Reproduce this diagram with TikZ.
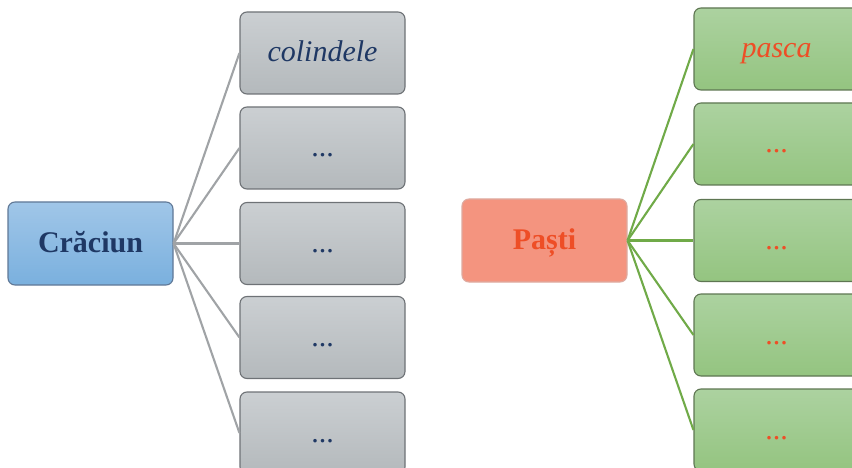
\documentclass[tikz,border=0pt]{standalone}
\usepackage{fontspec}
\setmainfont{Liberation Serif}
\usepackage{tikz}
\definecolor{XNavy}{RGB}{31,56,100}
\definecolor{XOrange}{RGB}{238,78,38}
\definecolor{XBlueTop}{RGB}{160,198,232}
\definecolor{XBlueBot}{RGB}{122,176,222}
\definecolor{XBlueLine}{RGB}{96,120,150}
\definecolor{XGrayTop}{RGB}{203,207,210}
\definecolor{XGrayBot}{RGB}{180,185,188}
\definecolor{XGrayLine}{RGB}{110,114,118}
\definecolor{XGrayLink}{RGB}{160,163,166}
\definecolor{XSalmon}{RGB}{244,148,127}
\definecolor{XSalmonLine}{RGB}{222,170,160}
\definecolor{XGreenTop}{RGB}{172,210,160}
\definecolor{XGreenBot}{RGB}{148,196,128}
\definecolor{XGreenLine}{RGB}{94,118,82}
\definecolor{XGreenLink}{RGB}{112,170,72}

\begin{document}
\begin{tikzpicture}[x=1pt, y=-1pt,
          box/.style={rectangle, rounded corners=7pt, minimum width=165pt,
                      minimum height=82pt, line width=1.1pt,
                      text height=22pt, text depth=4pt,
                      font=\fontsize{30}{36}\selectfont, align=center},
          gbox/.style={box, draw=XGrayLine, top color=XGrayTop,
                       bottom color=XGrayBot, text=XNavy},
          vbox/.style={box, draw=XGreenLine, top color=XGreenTop,
                       bottom color=XGreenBot, text=XOrange},
          link/.style={line width=2.1pt}
        ]
        \clip (0,0) rectangle (852,468);
        \useasboundingbox (0,0) rectangle (852,468);

        % Craciun
        \node[box, draw=XBlueLine, top color=XBlueTop, bottom color=XBlueBot,
              text=XNavy, minimum height=83pt, font=\fontsize{30}{36}\selectfont\bfseries]
              (crac) at (90.5, 243.5) {Crăciun};
        \node[gbox] (ca) at (322.5, 53)    {\itshape colindele};
        \node[gbox] (cb) at (322.5, 148)   {...};
        \node[gbox] (cc) at (322.5, 243.5) {...};
        \node[gbox] (cd) at (322.5, 337.5) {...};
        \node[gbox] (ce) at (322.5, 433)   {...};

        \foreach \n in {ca, cb, cc, cd, ce} {
          \draw[link, XGrayLink] (crac.east) -- (\n.west);
        }

        % Pasti
        \node[box, draw=XSalmonLine, fill=XSalmon, text=XOrange,
              minimum height=83pt, font=\fontsize{30}{36}\selectfont\bfseries]
              (past) at (544.5, 240.5) {Paști};
        \node[vbox] (pa) at (776.5, 49)    {\itshape pasca};
        \node[vbox] (pb) at (776.5, 144)   {...};
        \node[vbox] (pc) at (776.5, 240.5) {...};
        \node[vbox] (pd) at (776.5, 335)   {...};
        \node[vbox] (pe) at (776.5, 430)   {...};

        \foreach \n in {pa, pb, pc, pd, pe} {
          \draw[link, XGreenLink] (past.east) -- (\n.west);
        }
      \end{tikzpicture}
\end{document}
